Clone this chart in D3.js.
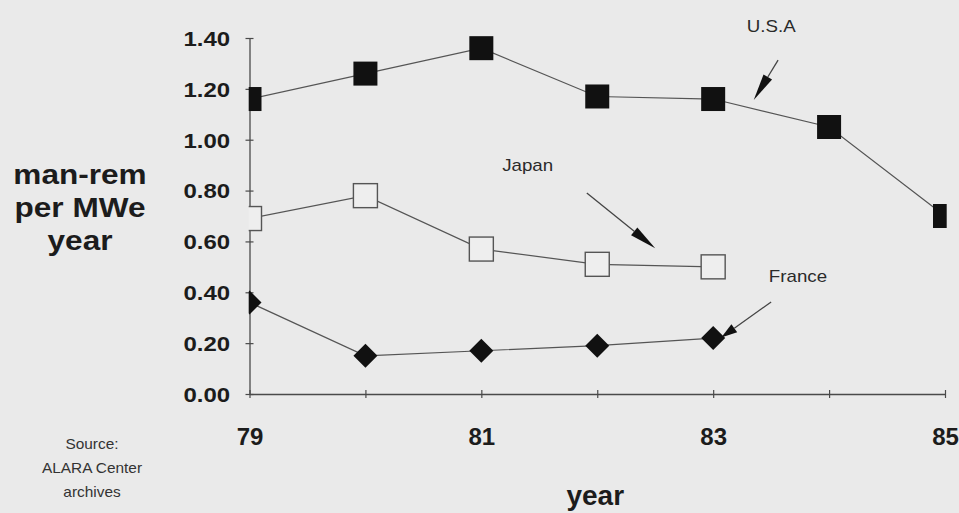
<!DOCTYPE html>
<html>
<head>
<meta charset="utf-8">
<script src="https://cdn.jsdelivr.net/npm/d3@7"></script>
<style>
  html, body { margin: 0; padding: 0; background: #eaeaea; }
  svg { display: block; }
  text { font-family: "Liberation Sans", Arial, Helvetica, sans-serif; fill: #1c1c1c; }
</style>
</head>
<body>
<svg id="chart" width="959" height="513"></svg>
<script>
// ---- data ----
const years = [79, 80, 81, 82, 83, 84, 85];
const xTickLabels = [79, 81, 83, 85];
const yTicks = [0, 0.2, 0.4, 0.6, 0.8, 1.0, 1.2, 1.4];
const usaValues = [1.16, 1.26, 1.36, 1.17, 1.16, 1.05, 0.70];
const japanValues = [0.69, 0.78, 0.57, 0.51, 0.50];
const franceValues = [0.36, 0.15, 0.17, 0.19, 0.22];
const seriesNames = ["U.S.A", "Japan", "France"];
// annotation anchors in data units: [label x, label y, arrow start x, y, arrow tip x, y]
const usaNote = [83.29, 1.423, 83.56, 1.313, 83.35, 1.156];
const japanNote = [81.18, 0.877, 81.91, 0.790, 82.50, 0.573];
const franceNote = [83.48, 0.440, 83.50, 0.362, 83.07, 0.222];
const yTitleLines = ["man-rem", "per MWe", "year"];
const xTitle = "year";
const sourceLines = ["Source:", "ALARA Center", "archives"];

// ---- setup ----
const svg = d3.select("#chart");
const W = 959, H = 513;
svg.append("rect").attr("width", W).attr("height", H).attr("fill", "#eaeaea");

const x = d3.scaleLinear().domain([79, 85]).range([249.5, 945]);
const y = d3.scaleLinear().domain([0, 1.4]).range([394, 38]);
const SX = 1.17; // horizontal stretch of the scanned lettering

function stretchedText(g, px, py, txt, opts) {
  const t = g.append("text")
    .attr("transform", `translate(${px},${py}) scale(${opts.sx || SX},1)`)
    .attr("text-anchor", opts.anchor || "start")
    .attr("font-size", opts.size)
    .attr("font-weight", opts.weight || "normal")
    .text(txt);
  if (opts.fill) t.style("fill", opts.fill);
  return t;
}

// ---- axes ----
const axisColor = "#4a4a4a";
const yAxis = svg.append("g")
  .attr("transform", `translate(${x(79)},0)`)
  .call(d3.axisLeft(y).tickValues(yTicks).tickFormat(d3.format(".2f")).tickSizeOuter(0).tickSizeInner(4));
yAxis.select(".domain").attr("stroke", axisColor).attr("stroke-width", 1.3);
yAxis.selectAll(".tick line").attr("x1", 4).attr("x2", -4).attr("stroke", axisColor).attr("stroke-width", 1.2);
yAxis.selectAll(".tick text")
  .attr("x", -16.5).attr("dy", "0.36em")
  .attr("transform", `scale(${SX},1)`)
  .attr("font-size", 20.5).attr("font-weight", "bold")
  .attr("font-family", "Liberation Sans, Arial, sans-serif")
  .style("fill", "#1c1c1c");

const xAxis = svg.append("g")
  .attr("transform", `translate(0,${y(0)})`)
  .call(d3.axisBottom(x).tickValues(years)
    .tickFormat(d => xTickLabels.includes(d) ? String(d) : "")
    .tickSizeOuter(0).tickSizeInner(4));
xAxis.select(".domain").attr("stroke", axisColor).attr("stroke-width", 1.3);
xAxis.selectAll(".tick line").attr("y1", -4).attr("y2", 4).attr("stroke", axisColor).attr("stroke-width", 1.2);
xAxis.selectAll(".tick text")
  .attr("y", 51).attr("dy", 0)
  .attr("font-size", 24).attr("font-weight", "bold")
  .attr("font-family", "Liberation Sans, Arial, sans-serif")
  .style("fill", "#1c1c1c");

// ---- clip for markers ----
svg.append("clipPath").attr("id", "plotclip")
  .append("rect").attr("x", x(79) - 0.8).attr("y", 0)
  .attr("width", x(85) - x(79) + 2.5).attr("height", y(0) + 2);

const plot = svg.append("g").attr("clip-path", "url(#plotclip)");
const lineColor = "#555";
const lineGen = d3.line().x((d, i) => x(years[i])).y(d => y(d));

[usaValues, japanValues, franceValues].forEach(vals => {
  plot.append("path").datum(vals)
    .attr("d", lineGen)
    .attr("fill", "none").attr("stroke", lineColor).attr("stroke-width", 1.2);
});

const S = 24;
// USA filled squares
plot.selectAll(".usa").data(usaValues).enter().append("rect")
  .attr("x", (d, i) => x(years[i]) - S / 2)
  .attr("y", d => y(d) - S / 2)
  .attr("width", S).attr("height", S)
  .attr("fill", "#111");
// Japan open squares
plot.selectAll(".jp").data(japanValues).enter().append("rect")
  .attr("x", (d, i) => x(years[i]) - S / 2)
  .attr("y", d => y(d) - S / 2)
  .attr("width", S).attr("height", S)
  .attr("fill", "#eeeeee").attr("stroke", "#555").attr("stroke-width", 1.4);
// France diamonds
const R = 12;
plot.selectAll(".fr").data(franceValues).enter().append("path")
  .attr("d", (d, i) => {
    const cx = x(years[i]), cy = y(d);
    return `M${cx},${cy - R}L${cx + R},${cy}L${cx},${cy + R}L${cx - R},${cy}Z`;
  })
  .attr("fill", "#111");

// ---- annotations ----
const ann = svg.append("g");
function arrow(note, headLen, headHalf) {
  const x0 = x(note[2]), y0 = y(note[3]), x1 = x(note[4]), y1 = y(note[5]);
  const ang = Math.atan2(y1 - y0, x1 - x0);
  const bx = x1 - headLen * Math.cos(ang), by = y1 - headLen * Math.sin(ang);
  ann.append("line").attr("x1", x0).attr("y1", y0).attr("x2", bx).attr("y2", by)
    .attr("stroke", "#444").attr("stroke-width", 1.3);
  const px = -Math.sin(ang) * headHalf, py = Math.cos(ang) * headHalf;
  ann.append("path")
    .attr("d", `M${x1},${y1}L${bx + px},${by + py}L${bx - px},${by - py}Z`)
    .attr("fill", "#111");
}
arrow(usaNote, 27, 5);
arrow(japanNote, 27, 5);
arrow(franceNote, 16, 5);

[usaNote, japanNote, franceNote].forEach((n, i) => {
  stretchedText(ann, x(n[0]), y(n[1]), seriesNames[i], { size: 16, fill: "#2a2a2a" });
});

// ---- titles ----
yTitleLines.forEach((t, i) => {
  stretchedText(svg, 80, 184 + i * 33, t, { size: 27, weight: "bold", anchor: "middle" });
});
svg.append("text")
  .attr("x", (x(81) + x(83)) / 2 - 2).attr("y", 505)
  .attr("text-anchor", "middle").attr("font-size", 28).attr("font-weight", "bold")
  .text(xTitle);
sourceLines.forEach((t, i) => {
  stretchedText(svg, 92, 449 + i * 24, t, { size: 14, anchor: "middle", fill: "#333", sx: 1.1 });
});
</script>
</body>
</html>
